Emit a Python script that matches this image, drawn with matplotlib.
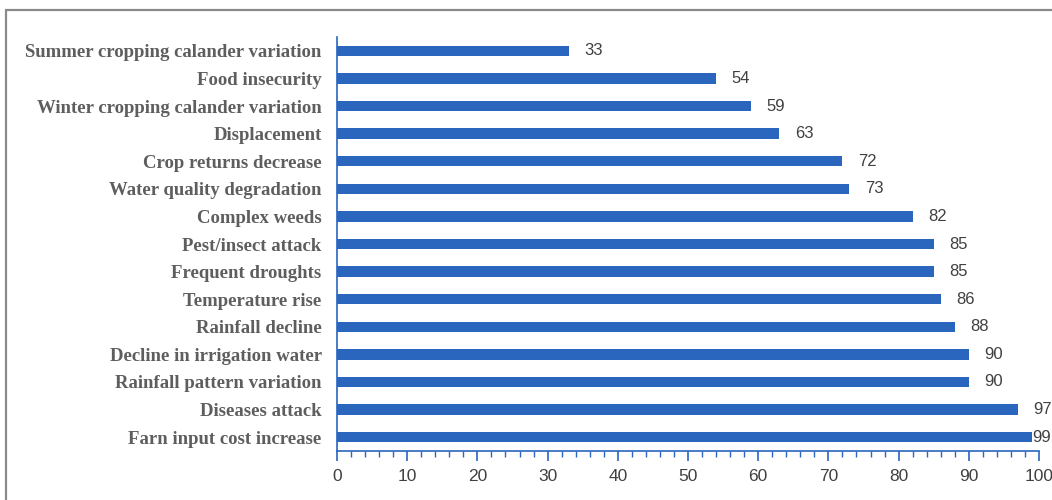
import matplotlib
matplotlib.use("Agg")
import matplotlib.pyplot as plt
from matplotlib.patches import Rectangle
from matplotlib.ticker import MultipleLocator

# ---- data (top to bottom as drawn) ------------------------------------------
categories = [
    "Summer cropping calander variation",
    "Food insecurity",
    "Winter cropping calander variation",
    "Displacement",
    "Crop returns decrease",
    "Water quality degradation",
    "Complex weeds",
    "Pest/insect attack",
    "Frequent droughts",
    "Temperature rise",
    "Rainfall decline",
    "Decline in irrigation water",
    "Rainfall pattern variation",
    "Diseases attack",
    "Farn input cost increase",
]
values = [33, 54, 59, 63, 72, 73, 82, 85, 85, 86, 88, 90, 90, 97, 99]
x_ticks = list(range(0, 101, 10))

BAR_COLOR = "#2a66be"
AXIS_COLOR = "#2a66be"
LABEL_GRAY = "#5e5e5e"
SANS = "Liberation Sans"

fig = plt.figure(figsize=(10.52, 5.0), dpi=100)
ax = fig.add_axes([337 / 1052, 1 - 451 / 500, (1039 - 337) / 1052, (451 - 37) / 500])

# outer frame, cut off at the right and bottom edges like the reference
fig.patches.append(Rectangle((6 / 1052, -0.1), 1.2, 1.1 - 10 / 500,
                             transform=fig.transFigure, fill=False,
                             edgecolor="#8a8a8a", lw=1.6))

n = len(categories)
ypos = [n - 1 - i for i in range(n)]
ax.barh(ypos, values, height=0.37, color=BAR_COLOR)

for y, v in zip(ypos, values):
    off = 0.1 if v >= 99 else 2.2
    ax.text(v + off, y, str(v), va="center", ha="left", fontsize=12,
            color="#404040", family=SANS)

ax.set_xlim(0, 100)
ax.set_ylim(-0.5, n - 0.5)
ax.set_yticks(ypos)
ax.set_yticklabels(categories, family="Liberation Serif", fontweight="bold",
                   fontsize=13.5, color=LABEL_GRAY)
ax.tick_params(axis="y", length=0, pad=11)

ax.set_xticks(x_ticks)
ax.xaxis.set_minor_locator(MultipleLocator(2))
ax.tick_params(axis="x", which="major", length=7, width=1.2, color=AXIS_COLOR,
               labelsize=12.5, labelcolor="#404040", pad=6)
ax.tick_params(axis="x", which="minor", length=4, width=1.0, color=AXIS_COLOR)
for lbl in ax.get_xticklabels():
    lbl.set_family(SANS)

for side in ("top", "right"):
    ax.spines[side].set_visible(False)
for side in ("left", "bottom"):
    ax.spines[side].set_color(AXIS_COLOR)
    ax.spines[side].set_linewidth(1.2)

fig.savefig("out.png", dpi=100)
